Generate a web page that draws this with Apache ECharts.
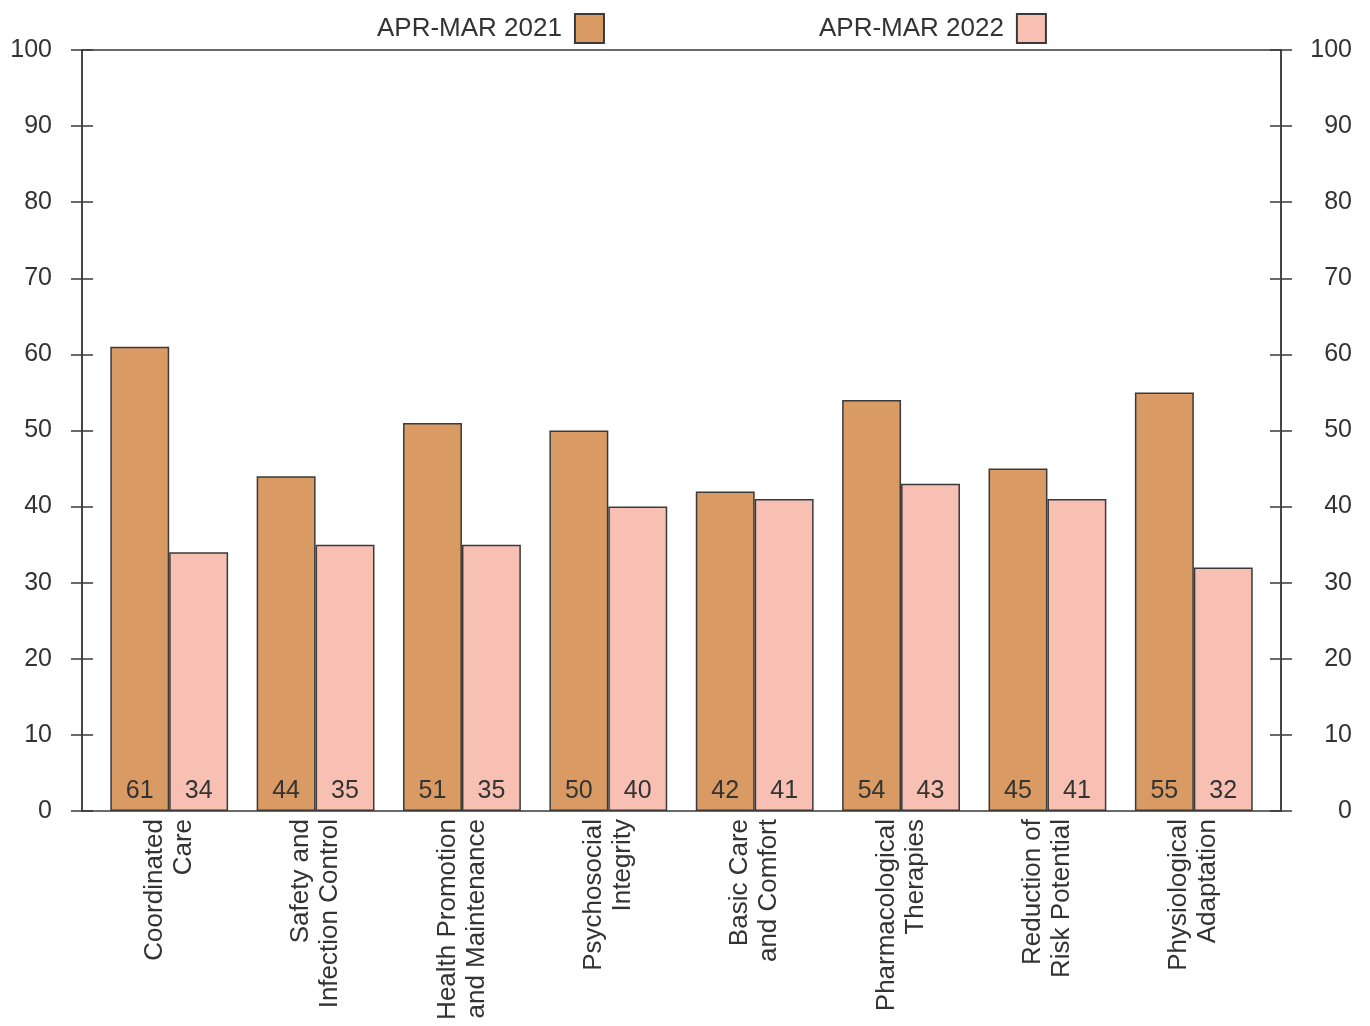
<!DOCTYPE html>
<html>
<head>
<meta charset="utf-8">
<script src="https://cdn.jsdelivr.net/npm/echarts@6/dist/echarts.min.js"></script>
<style>
  html, body { margin: 0; padding: 0; background: #fff; }
  #chart { width: 1370px; height: 1026px; }
</style>
</head>
<body>
<div id="chart"></div>
<script>
// Client need categories and yearly percentages
const categories = [
  'Coordinated\nCare',
  'Safety and\nInfection Control',
  'Health Promotion\nand Maintenance',
  'Psychosocial\nIntegrity',
  'Basic Care\nand Comfort',
  'Pharmacological\nTherapies',
  'Reduction of\nRisk Potential',
  'Physiological\nAdaptation'
];
const seriesNames = ['APR-MAR 2021', 'APR-MAR 2022'];
const values2021 = [61, 44, 51, 50, 42, 54, 45, 55];
const values2022 = [34, 35, 35, 40, 41, 43, 41, 32];
const yTicks = [0, 10, 20, 30, 40, 50, 60, 70, 80, 90, 100];

const FONT = '"Liberation Sans", Arial, sans-serif';
const INK = '#333';
const LINE = '#3a3a3a';
const yMin = yTicks[0], yMax = yTicks[yTicks.length - 1], yStep = yTicks[1] - yTicks[0];

// Frame axis: one outward-tick axis with labels plus one inward-tick axis per side,
// so the ticks cross the axis line.
function frameY(position, inside, showLabel) {
  return {
    type: 'value', gridIndex: 0, position: position,
    min: yMin, max: yMax, interval: yStep,
    axisLine: { show: true, lineStyle: { color: LINE, width: 1.5 } },
    axisTick: { show: true, inside: inside, length: 11, lineStyle: { color: LINE, width: 1.5 } },
    axisLabel: showLabel ? {
      show: true, fontFamily: FONT, fontSize: 25, color: INK,
      margin: position === 'left' ? 30 : 71,
      align: 'right'
    } : { show: false },
    splitLine: { show: false }
  };
}

const barLabel = {
  show: true, position: 'insideBottom', distance: 7,
  fontFamily: FONT, fontSize: 25, color: INK
};

const chart = echarts.init(document.getElementById('chart'));
chart.setOption({
  backgroundColor: '#fff',
  animation: false,
  legend: {
    data: seriesNames,
    left: 372, top: 8,
    align: 'right',
    itemWidth: 29, itemHeight: 29,
    itemGap: 214,
    icon: 'rect',
    textStyle: { fontFamily: FONT, fontSize: 26, color: INK, padding: [0, 8, 0, 0] }
  },
  grid: [
    { left: 82, right: 89, top: 50, bottom: 215 },
    { left: 96, right: 103, top: 50, bottom: 215 }
  ],
  xAxis: [
    { // bottom frame line
      type: 'category', gridIndex: 0, position: 'bottom', data: [''],
      axisLine: { show: true, onZero: false, lineStyle: { color: LINE, width: 1.5 } },
      axisTick: { show: false }, axisLabel: { show: false }
    },
    { // top frame line
      type: 'category', gridIndex: 0, position: 'top', data: [''],
      axisLine: { show: true, onZero: false, lineStyle: { color: LINE, width: 1.5 } },
      axisTick: { show: false }, axisLabel: { show: false }
    },
    { // category axis for the bars
      type: 'category', gridIndex: 1, data: categories,
      axisLine: { show: false }, axisTick: { show: false },
      axisLabel: {
        rotate: 90, interval: 0, margin: 8,
        fontFamily: FONT, fontSize: 26, lineHeight: 29, color: INK
      }
    }
  ],
  yAxis: [
    frameY('left', false, true),
    frameY('left', true, false),
    frameY('right', false, true),
    frameY('right', true, false),
    {
      type: 'value', gridIndex: 1, min: yMin, max: yMax, interval: yStep,
      axisLine: { show: false }, axisTick: { show: false },
      axisLabel: { show: false }, splitLine: { show: false }
    }
  ],
  series: [
    {
      name: seriesNames[0], type: 'bar', xAxisIndex: 2, yAxisIndex: 4,
      data: values2021, barGap: '0%', barCategoryGap: '19.5%',
      itemStyle: { color: '#DA9A63', borderColor: LINE, borderWidth: 1.5 },
      label: barLabel
    },
    {
      name: seriesNames[1], type: 'bar', xAxisIndex: 2, yAxisIndex: 4,
      data: values2022, barGap: '0%', barCategoryGap: '19.5%',
      itemStyle: { color: '#F7C0B3', borderColor: LINE, borderWidth: 1.5 },
      label: barLabel
    }
  ]
});
</script>
</body>
</html>
